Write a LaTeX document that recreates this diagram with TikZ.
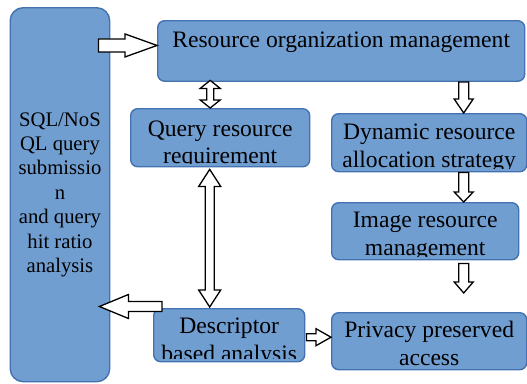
\documentclass[tikz,border=0pt]{standalone}
\usepackage{fontspec}
\setmainfont{Liberation Serif}
\usetikzlibrary{calc}
\definecolor{boxfill}{RGB}{113,158,209}
\definecolor{boxline}{RGB}{68,114,176}
\tikzset{
  box/.style={draw=boxline, fill=boxfill, line width=1.4pt, rounded corners=7pt, inner sep=0pt, anchor=north west},
  txt/.style={draw=none, fill=none, inner sep=0pt, anchor=base, text=black,
    font=\fontsize{23.6}{27.5}\selectfont},
  barrow/.style={draw=black, fill=white, line width=1.3pt, line join=miter, sharp corners},
}
% name, x, y, width, height, first-baseline offset, text
\newcommand\tbox[7]{%
  \node[box, minimum width=#4pt, minimum height=#5pt,
    path picture={%
      \clip[sharp corners] ($(path picture bounding box.south west)+(0,3.5)$) rectangle (path picture bounding box.north east);
      \node[txt] at ($(path picture bounding box.north)+(0,-#6)$) {\parbox[t]{360pt}{\centering #7}};}] (#1) at (#2,-#3) {};}
% arrows: tail, tip, half shaft, half head, head length
\newcommand\rarr[5]{\draw[barrow] ($(#1)+(0,#3)$) -- ($(#2)+(-#5,#3)$) -- ($(#2)+(-#5,#4)$) -- (#2) -- ($(#2)+(-#5,-#4)$) -- ($(#2)+(-#5,-#3)$) -- ($(#1)+(0,-#3)$) -- cycle;}
\newcommand\larr[5]{\draw[barrow] ($(#1)+(0,#3)$) -- ($(#2)+(#5,#3)$) -- ($(#2)+(#5,#4)$) -- (#2) -- ($(#2)+(#5,-#4)$) -- ($(#2)+(#5,-#3)$) -- ($(#1)+(0,-#3)$) -- cycle;}
\newcommand\darr[5]{\draw[barrow] ($(#1)+(-#3,0)$) -- ($(#2)+(-#3,#5)$) -- ($(#2)+(-#4,#5)$) -- (#2) -- ($(#2)+(#4,#5)$) -- ($(#2)+(#3,#5)$) -- ($(#1)+(#3,0)$) -- cycle;}
\newcommand\vdarr[5]{\draw[barrow] (#1) -- ($(#1)+(#4,-#5)$) -- ($(#1)+(#3,-#5)$) -- ($(#2)+(#3,#5)$) -- ($(#2)+(#4,#5)$) -- (#2) -- ($(#2)+(-#4,#5)$) -- ($(#2)+(-#3,#5)$) -- ($(#1)+(-#3,-#5)$) -- ($(#1)+(-#4,-#5)$) -- cycle;}
\begin{document}
\begin{tikzpicture}[x=1pt,y=1pt]
\useasboundingbox (0,0) rectangle (527,-383);
\node[box, rounded corners=13pt, minimum width=99.5pt, minimum height=374pt, align=center,
  font=\fontsize{20.7}{24.4}\selectfont] (sqlbox) at (9.5,-7)
  {SQL/NoS\\QL query\\submissio\\n\\and query\\hit ratio\\analysis};
\tbox{top}{157}{20}{367}{60.5}{27}{Resource organization management}
\tbox{query}{130}{108}{179}{58}{27.5}{Query resource\\requirement}
\tbox{dyn}{331}{113}{195}{58}{26}{Dynamic resource\\allocation strategy}
\tbox{img}{331}{202}{187}{57}{25}{Image resource\\management}
\tbox{priv}{331}{312}{195}{57}{25}{Privacy preserved\\access}
\tbox{desc}{153}{308}{151}{53}{25}{Descriptor\\based analysis}
% 1: sql -> top
\coordinate (a1e) at ($(top.west)+(0,5.5)$);
\coordinate (a1s) at ($(sqlbox.east |- a1e)+(-12,0)$);
\rarr{a1s}{a1e}{6.5}{11.5}{32}
% 2: top <-> query
\coordinate (a2b) at ($(query.north)+(-10,0)$);
\coordinate (a2t) at ($(a2b |- top.south)+(0,1.5)$);
\vdarr{a2t}{a2b}{3.5}{10}{8}
% 3: top -> dyn
\coordinate (a3e) at ($(dyn.north)+(34.5,0)$);
\coordinate (a3s) at (a3e |- top.south);
\darr{a3s}{a3e}{5}{9.5}{14}
% 4: dyn -> img
\coordinate (a4e) at ($(img.north)+(38.5,0)$);
\coordinate (a4s) at (a4e |- dyn.south);
\darr{a4s}{a4e}{5}{9.5}{10}
% 5: img -> priv
\coordinate (a5s) at ($(img.south)+(38.5,-3)$);
\coordinate (a5e) at ($(a5s |- priv.north)+(0,19)$);
\darr{a5s}{a5e}{5}{9.5}{11}
% 6: query <-> desc
\coordinate (a6t) at ($(query.south)+(-10.5,-2)$);
\coordinate (a6b) at ($(a6t |- desc.north)+(0,1)$);
\vdarr{a6t}{a6b}{4.5}{11}{17}
% 7: desc -> sql
\coordinate (a7s) at ($(desc.north west)+(9,1.5)$);
\coordinate (a7e) at ($(sqlbox.east |- a7s)+(-11,0)$);
\larr{a7s}{a7e}{5}{12}{29}
% 8: desc -> priv
\coordinate (a8s) at ($(desc.east)+(1,-2)$);
\coordinate (a8e) at (priv.west |- a8s);
\rarr{a8s}{a8e}{3.5}{8.5}{15}
\end{tikzpicture}
\end{document}
